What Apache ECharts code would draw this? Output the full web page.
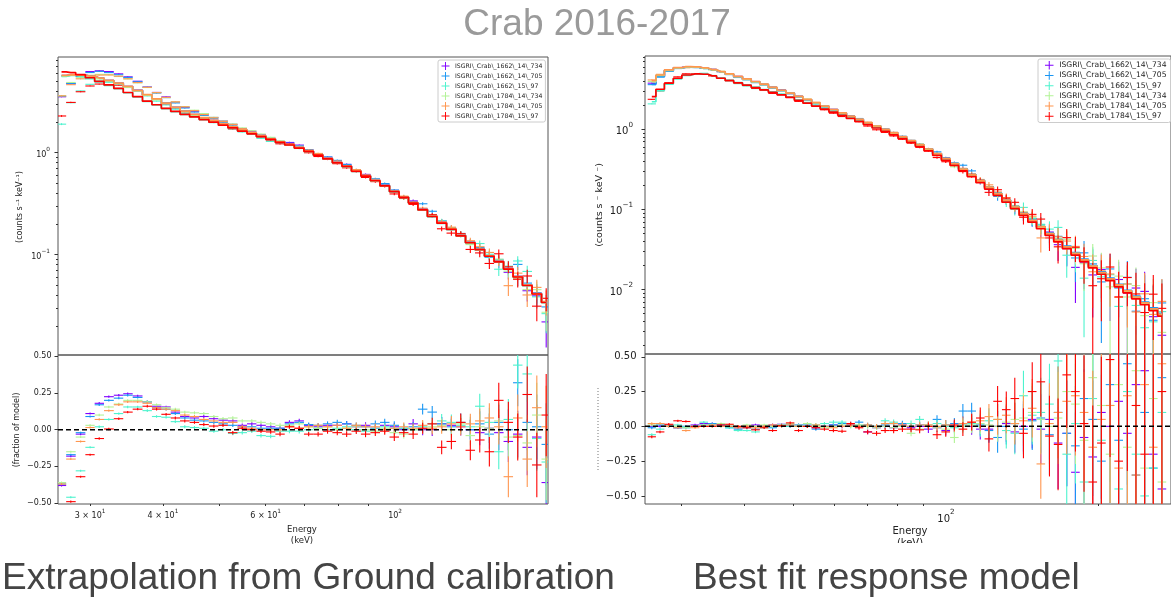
<!DOCTYPE html>
<html><head><meta charset="utf-8">
<script src="https://cdn.jsdelivr.net/npm/echarts@6/dist/echarts.min.js"></script>
<style>html,body{margin:0;padding:0;background:#fff}#c{width:1171px;height:602px}</style>
</head><body><div id="c"></div>
<script>
// ---------------- data ----------------
const NAMES = ['ISGRI\\_Crab\\_1662\\_14\\_734','ISGRI\\_Crab\\_1662\\_14\\_705','ISGRI\\_Crab\\_1662\\_15\\_97',
               'ISGRI\\_Crab\\_1784\\_14\\_734','ISGRI\\_Crab\\_1784\\_14\\_705','ISGRI\\_Crab\\_1784\\_15\\_97'];
const COLORS = ['#8000ff','#1996f3','#4df3ce','#b2f396','#ff964f','#ff0000'];

// Left panel: energy bin centres (keV)
const E_L = [26.8,27.8,28.9,30.0,31.1,32.3,33.6,34.8,36.2,37.6,39.0,40.5,42.0,43.6,45.3,47.0,48.9,50.7,52.7,54.7,56.8,58.9,61.2,63.5,65.9,68.5,71.1,73.8,76.6,79.6,82.6,85.8,89.0,92.5,96.0,99.7,103.5,107.4,111.5,115.8,120.2,124.9,129.6,134.6,139.7,145.1,150.6,156.4,162.3,168.5,175.0,181.6];
// Left panel model count rates per series
const M_L_P = [5.70,5.78,5.75,5.62,5.38,5.10,4.80,4.45,4.08,3.70,3.36,3.05,2.78,2.55,2.36,2.20,2.06,1.92,1.79,1.67,1.56,1.46,1.37,1.28,1.20,1.12,1.04,.955,.877,.803,.739,.664,.595,.536,.476,.419,.368,.324,.278,.239,.206,.179,.155,.132,.113,.0975,.0859,.0731,.0611,.0504,.0416,.0343];
const M_L_B = [5.68,5.76,5.73,5.60,5.36,5.08,4.78,4.43,4.06,3.68,3.34,3.04,2.77,2.54,2.35,2.19,2.05,1.91,1.78,1.66,1.55,1.45,1.36,1.27,1.19,1.11,1.035,.952,.874,.801,.737,.662,.593,.534,.475,.418,.367,.323,.277,.238,.205,.178,.154,.132,.113,.0972,.0856,.0729,.0609,.0502,.0415,.0342];
const M_L_C = [5.60,5.72,5.60,5.32,4.95,4.58,4.24,3.87,3.53,3.19,2.94,2.71,2.53,2.37,2.24,2.11,1.99,1.86,1.75,1.63,1.53,1.44,1.35,1.26,1.19,1.11,1.03,.944,.867,.794,.731,.657,.589,.530,.471,.414,.364,.320,.274,.236,.203,.176,.152,.130,.111,.0963,.0848,.0722,.0603,.0497,.0411,.0339];
const M_L_G = [5.66,5.74,5.72,5.58,5.33,5.05,4.75,4.40,4.03,3.66,3.32,3.02,2.76,2.53,2.34,2.18,2.04,1.90,1.77,1.65,1.55,1.45,1.36,1.27,1.19,1.11,1.03,.950,.872,.799,.735,.660,.592,.533,.474,.417,.366,.322,.276,.238,.205,.178,.154,.131,.112,.0969,.0853,.0726,.0607,.0500,.0413,.0341];
const M_L_O = [5.72,5.80,5.76,5.63,5.39,5.11,4.81,4.46,4.09,3.71,3.37,3.06,2.79,2.56,2.37,2.21,2.07,1.93,1.80,1.68,1.57,1.47,1.37,1.28,1.20,1.12,1.04,.955,.877,.803,.739,.664,.595,.536,.476,.419,.368,.324,.278,.239,.206,.179,.155,.132,.113,.0975,.0859,.0731,.0611,.0504,.0416,.0343];
const M_L_R = [6.19,6.10,5.82,5.43,5.01,4.62,4.27,3.89,3.55,3.20,2.95,2.72,2.54,2.37,2.24,2.11,1.99,1.86,1.75,1.63,1.53,1.44,1.35,1.26,1.19,1.11,1.03,.946,.869,.796,.733,.658,.590,.531,.472,.415,.365,.321,.275,.237,.204,.177,.153,.131,.112,.0966,.0851,.0724,.0605,.0499,.0412,.0340];
// Left panel residuals (fraction of model)
const R_L_P = [-.38,-.18,-.03,.11,.18,.225,.235,.245,.23,.19,.16,.155,.12,.09,.08,.09,.075,.065,.06,.03,.04,.03,.02,.01,.05,.06,.03,.02,.03,.03,.04,.02,.03,.01,.03,.02,0,.04,0,0,.04,.03,.02,0,-.02,.01,-.02,-.08,-.03,-.12,-.05,-.36];
const R_L_B = [-.37,-.17,-.02,.09,.17,.20,.215,.235,.22,.19,.15,.14,.11,.08,.065,.06,.05,.04,.03,.02,.02,.01,.01,.01,.04,.05,.035,.03,.04,.05,.04,.03,.02,.04,.05,.03,.01,.02,.14,.12,.04,.02,.05,0,.04,-.03,.05,0,.32,.05,.02,-.1];
const R_L_C = [-.66,-.46,-.28,-.12,.02,.07,.11,.155,.155,.13,.09,.085,.055,.02,.015,.01,-.01,0,-.025,-.02,-.01,-.04,-.045,-.01,-.01,-.01,0,.01,0,.01,.02,0,-.01,.01,.02,.01,.01,0,.02,.04,.06,.05,.03,.02,.16,.05,-.15,.07,.44,.38,-.06,-.22];
const R_L_G = [-.36,-.15,-.05,.03,.10,.155,.175,.20,.20,.19,.17,.15,.14,.12,.115,.11,.09,.075,.08,.06,.06,.05,.04,.03,.03,.04,.02,.01,.02,0,.01,.02,0,-.01,.01,-.02,-.03,0,.01,.02,.03,0,.04,-.04,.02,.01,.06,-.05,-.04,-.09,.1,-.2];
const R_L_O = [-.37,-.20,-.08,.015,.07,.13,.17,.19,.19,.18,.15,.14,.13,.10,.09,.07,.06,.05,.05,.02,.01,0,0,0,.02,.01,.02,.03,.02,.03,.01,.03,.02,.02,0,.01,.02,.01,.03,.01,.02,.04,.02,.04,.06,.08,.02,-.32,.08,-.2,.15,.02];
const R_L_R = [-.63,-.49,-.32,-.17,-.06,.005,.075,.12,.14,.16,.14,.105,.08,.06,.05,.035,.025,.03,-.02,.01,0,-.01,-.015,-.03,.02,.01,-.03,-.03,-.01,-.02,-.03,-.01,-.03,-.02,-.01,-.05,-.02,-.03,.01,.04,-.12,-.08,.05,-.14,-.07,-.15,.2,.05,-.05,.24,-.24,.1];
// Left panel 1-sigma relative errors
const ERR_L = [.007,.007,.007,.007,.008,.008,.008,.008,.008,.009,.009,.009,.01,.01,.01,.01,.011,.011,.012,.012,.012,.013,.013,.014,.014,.015,.015,.016,.017,.018,.019,.02,.021,.023,.025,.027,.03,.033,.037,.042,.047,.053,.06,.068,.085,.1,.12,.14,.16,.19,.22,.28];

// Right panel: energy bin centres (keV)
const E_R = [26.2,27.2,28.3,29.5,30.6,31.9,33.2,34.5,35.9,37.3,38.8,40.4,42.0,43.7,45.4,47.3,49.2,51.1,53.2,55.3,57.5,59.9,62.3,64.8,67.3,70.0,72.9,75.8,78.8,82.0,85.3,88.7,92.3,96.0,99.9,103.9,108.0,112.4,116.9,121.6,126.5,131.6,136.8,142.3,148.1,154.0,160.2,166.6,173.3,180.3,187.5,195.1,202.9,211.1,219.5,228.4,237.5,247.1,257.0,267.3];
const M_R_P = [3.75,4.60,5.40,5.80,5.97,5.93,5.76,5.48,5.18,4.86,4.52,4.20,3.90,3.61,3.30,3.04,2.80,2.55,2.33,2.12,1.93,1.75,1.59,1.44,1.32,1.20,1.09,.985,.892,.80,.716,.637,.563,.494,.429,.37,.317,.269,.226,.188,.156,.129,.107,.088,.0727,.0601,.0497,.0412,.034,.0282,.0234,.0195,.0162,.0135,.0113,.0095,.00803,.00677,.00573,.00489];
const M_R_B = [3.63,4.50,5.30,5.76,5.94,5.91,5.74,5.46,5.16,4.84,4.50,4.18,3.88,3.59,3.29,3.03,2.79,2.54,2.32,2.11,1.92,1.74,1.58,1.44,1.32,1.20,1.09,.985,.892,.801,.718,.639,.566,.497,.432,.373,.32,.272,.229,.191,.158,.131,.108,.0892,.0737,.061,.0505,.0419,.0347,.0288,.0239,.0199,.0166,.0139,.0116,.0098,.00826,.00698,.00591,.00504];
const M_R_C = [2.20,3.05,3.65,4.25,4.70,4.88,4.84,4.63,4.34,4.06,3.81,3.57,3.34,3.12,2.91,2.71,2.52,2.32,2.14,1.97,1.81,1.66,1.52,1.39,1.27,1.16,1.055,.958,.866,.78,.699,.622,.55,.483,.42,.363,.311,.264,.222,.185,.154,.127,.105,.0867,.0716,.0592,.0489,.0405,.0335,.0278,.0231,.0192,.016,.0133,.0112,.0094,.00792,.00668,.00565,.00482];
const M_R_G = [3.90,4.68,5.42,5.80,5.96,5.92,5.74,5.47,5.17,4.85,4.51,4.19,3.89,3.60,3.30,3.03,2.79,2.55,2.33,2.12,1.93,1.75,1.59,1.44,1.32,1.20,1.09,.985,.89,.80,.715,.636,.562,.493,.428,.369,.316,.268,.225,.187,.156,.129,.106,.0878,.0725,.06,.0496,.041,.0339,.0281,.0233,.0194,.0162,.0135,.0113,.0095,.008,.00675,.00572,.00487];
const M_R_O = [4.03,4.74,5.48,5.85,6.02,5.98,5.80,5.52,5.22,4.90,4.56,4.24,3.93,3.64,3.33,3.06,2.82,2.57,2.35,2.14,1.94,1.76,1.60,1.45,1.33,1.21,1.095,.99,.897,.805,.72,.64,.566,.496,.431,.372,.318,.27,.227,.189,.157,.13,.107,.0883,.0729,.0603,.0498,.0413,.0341,.0283,.0235,.0196,.0163,.0136,.0114,.0096,.00807,.0068,.00576,.00491];
const M_R_R = [2.55,3.15,3.74,4.32,4.74,4.90,4.84,4.62,4.32,4.03,3.78,3.54,3.31,3.09,2.88,2.68,2.49,2.29,2.11,1.94,1.78,1.63,1.49,1.36,1.25,1.14,1.035,.940,.849,.764,.684,.608,.537,.471,.409,.353,.302,.256,.215,.179,.149,.123,.102,.0839,.0693,.0573,.0473,.0392,.0324,.0269,.0223,.0186,.0155,.0129,.0108,.0091,.00766,.00646,.00547,.00466];
const R_R_P = [0,0,.01,-.01,0,.01,.02,.02,.01,0,-.01,0,.01,0,.01,.015,0,.01,0,-.01,0,.01,0,.01,0,-.04,-.01,0,-.01,.01,-.01,0,-.02,-.01,-.03,0,.02,0,-.02,-.02,0,.02,-.04,0,.05,-.02,.05,-.12,-.05,-.33,-.08,-.22,.1,0,.18,-.05,.3,.4,-.2,-.45];
const R_R_B = [-.01,.01,0,-.01,-.01,0,.01,.02,.01,-.01,-.02,-.01,-.02,0,-.01,0,.01,0,.01,-.02,0,.01,.02,.02,.03,.01,0,.01,.02,.02,0,.01,0,.05,.01,.02,.11,.11,.01,-.03,-.08,0,.02,-.02,.04,.06,-.06,.1,-.05,-.14,.2,.05,-.25,.3,-.1,.45,-.35,.1,-.3,.35];
const R_R_C = [-.06,-.02,0,.01,0,0,.03,.01,0,-.01,-.03,-.03,-.04,-.01,0,.01,0,.01,0,.01,.02,.03,.03,0,.01,0,0,.04,.03,0,.02,.05,.01,.02,0,-.01,.01,.02,0,.04,.05,-.03,-.05,.22,.08,.1,.16,.47,-.2,.02,-.4,.2,-.1,.15,-.45,.25,-.2,-.5,-.3,.1];
const R_R_G = [.01,.02,.01,0,-.01,0,.01,0,.02,.01,0,.01,0,.01,0,.01,.02,0,.02,0,-.01,0,.01,0,.01,0,-.01,0,-.01,0,-.05,-.02,0,-.01,-.02,-.08,0,.01,.02,.01,0,.03,.05,.06,.1,.05,0,.06,.25,.16,-.1,.35,.15,-.2,.3,-.15,.4,-.3,.2,-.4];
const R_R_O = [.02,.02,0,-.01,-.03,-.01,0,.01,0,0,-.01,0,-.01,0,.01,0,.01,0,0,.01,0,-.01,0,.01,0,.01,0,.02,.02,.01,0,.01,.01,0,.01,0,.02,.03,.04,.07,.05,.08,.02,.04,.13,-.27,.02,.1,.18,.22,.1,-.15,.05,.15,-.3,.22,-.35,.3,-.15,.45];
const R_R_R = [-.075,-.04,.015,.04,.035,0,0,0,.01,.015,0,-.01,-.025,-.01,-.03,.005,.025,-.03,0,-.01,-.02,-.03,-.035,.02,-.01,-.04,-.05,-.03,-.03,-.02,-.02,-.025,0,-.06,-.04,.01,-.02,.03,.06,-.09,.18,.12,.2,-.05,.25,.32,-.07,-.13,.37,.25,.02,-.4,-.12,.48,-.25,.55,.15,-.2,.6,.25];
const ERR_R = [.01,.009,.009,.008,.008,.008,.008,.008,.008,.008,.009,.009,.009,.009,.01,.01,.01,.011,.011,.012,.012,.013,.013,.014,.015,.016,.017,.018,.019,.02,.022,.024,.027,.03,.035,.04,.05,.06,.075,.09,.11,.13,.15,.18,.21,.25,.29,.33,.38,.43,.49,.55,.62,.7,.78,.87,.96,1.06,1.17,1.3];

// tick values
const X_LABELS_L = [30,40,60,100];
const X_MAJOR = [100];
const X_MINOR_L = [30,40,50,60,70,80,90];
const X_MINOR_R = [30,40,50,60,70,80,90,200];
const Y_MAJOR_L = [0.1,1];
const Y_MAJOR_R = [0.01,0.1,1];
const Y_MINOR_L = [.02,.03,.04,.05,.06,.07,.08,.09,.2,.3,.4,.5,.6,.7,.8,.9,2,3,4,5,6,7,8];
const Y_MINOR_R = [.002,.003,.004,.005,.006,.007,.008,.009,.02,.03,.04,.05,.06,.07,.08,.09,.2,.3,.4,.5,.6,.7,.8,.9,2,3,4,5,6,7,8];
const RES_TICKS = [-0.5,-0.25,0,0.25,0.5];

// ---------------- helpers ----------------
function logLabel(v){
  const e = Math.floor(Math.log10(v) + 1e-6);
  const m = Math.round(v / Math.pow(10, e));
  const ex = (e < 0 ? '\u2212' : '') + Math.abs(e);
  return (m === 1 ? '{b|10}' : '{b|' + m + ' \u00D7 10}') + '{s|' + ex + '}';
}
function richFor(fs){
  return {
    b:{fontSize:fs, fontFamily:'DejaVu Sans', color:'#222', lineHeight:Math.round(fs*1.45), verticalAlign:'bottom'},
    s:{fontSize:Math.round(fs*0.72*10)/10, fontFamily:'DejaVu Sans', color:'#222', lineHeight:Math.round(fs*0.85), verticalAlign:'top'}
  };
}
const resLabel = v => (Math.abs(v) < 1e-9 ? '0.00' : (v < 0 ? '\u2212' : '') + Math.abs(v).toFixed(2));

function binEdges(E){
  const n = E.length, lo = [], hi = [];
  for (let i = 0; i < n; i++){
    const a = i > 0 ? Math.sqrt(E[i-1]*E[i]) : E[0]*E[0]/Math.sqrt(E[0]*E[1]);
    const b = i < n-1 ? Math.sqrt(E[i]*E[i+1]) : E[i]*E[i]/Math.sqrt(E[i-1]*E[i]);
    lo.push(a); hi.push(b);
  }
  return [lo, hi];
}

function makeCross(isLog){
  return function(params, api){
    const cs = params.coordSys;
    const top = cs.y, bot = cs.y + cs.height, left = cs.x, right = cs.x + cs.width;
    const x = api.value(0), y = api.value(1), x0 = api.value(2), x1 = api.value(3), y0 = api.value(4), y1 = api.value(5);
    const c = api.coord([x, y]);
    const pl = Math.max(left, api.coord([x0, y])[0]);
    const pr = Math.min(right, api.coord([x1, y])[0]);
    let pt = api.coord([x, y1])[1];
    let pb = (isLog && !(y0 > 0)) ? bot : api.coord([x, y0])[1];
    if (!isFinite(pb)) pb = bot;
    const style = {stroke: api.visual('color'), lineWidth: 1.1};
    const children = [];
    if (!(pt > bot || pb < top)){
      pt = Math.max(top, pt); pb = Math.min(bot, pb);
      if (c[0] >= left && c[0] <= right)
        children.push({type:'line', shape:{x1:c[0], y1:pt, x2:c[0], y2:pb}, style});
    }
    if (c[1] >= top && c[1] <= bot && pr > pl)
      children.push({type:'line', shape:{x1:pl, y1:c[1], x2:pr, y2:c[1]}, style});
    return {type:'group', children};
  };
}

// ---------------- panels ----------------
const PANELS = [
  {E:E_L, M:[M_L_P,M_L_B,M_L_C,M_L_G,M_L_O,M_L_R], R:[R_L_P,R_L_B,R_L_C,R_L_G,R_L_O,R_L_R], ERR:ERR_L, xTop:0, xBot:1, yTop:0, yBot:2},
  {E:E_R, M:[M_R_P,M_R_B,M_R_C,M_R_G,M_R_O,M_R_R], R:[R_R_P,R_R_B,R_R_C,R_R_G,R_R_O,R_R_R], ERR:ERR_R, xTop:3, xBot:4, yTop:3, yBot:5}
];

const series = [];
PANELS.forEach(p => {
  const [lo, hi] = binEdges(p.E);
  for (let k = 0; k < 6; k++){
    const M = p.M[k], R = p.R[k], col = COLORS[k];
    // observed rate = model * (1 + residual); error = model * relative error
    const topData = p.E.map((e,i) => [e, M[i]*(1+R[i]), lo[i], hi[i], M[i]*(1+R[i]-p.ERR[i]), M[i]*(1+R[i]+p.ERR[i])]);
    const botData = p.E.map((e,i) => [e, R[i], lo[i], hi[i], R[i]-p.ERR[i], R[i]+p.ERR[i]]);
    series.push({type:'custom', name:NAMES[k], xAxisIndex:p.xTop, yAxisIndex:p.yTop, data:topData,
      encode:{x:0, y:1}, renderItem:makeCross(true), itemStyle:{color:col}, silent:true, z:2});
    series.push({type:'line', name:NAMES[k], xAxisIndex:p.xTop, yAxisIndex:p.yTop, data:p.E.map((e,i)=>[e, M[i]]),
      step:'middle', symbol:'none', showSymbol:false, lineStyle:{color:col, width:1.7}, itemStyle:{color:col}, silent:true, z:2});
    series.push({type:'custom', name:NAMES[k], xAxisIndex:p.xBot, yAxisIndex:p.yBot, data:botData,
      encode:{x:0, y:1}, renderItem:makeCross(false), itemStyle:{color:col}, silent:true, z:2});
  }
  series.push({type:'custom', xAxisIndex:p.xBot, yAxisIndex:p.yBot, data:[[p.E[0], 0]], silent:true, z:6,
    encode:{x:0, y:1},
    renderItem:(params, api) => {
      const cs = params.coordSys; const y = api.coord([api.value(0), api.value(1)])[1];
      return {type:'line', shape:{x1:cs.x, y1:y, x2:cs.x+cs.width, y2:y}, style:{stroke:'#000', lineWidth:1.5, lineDash:[5,3]}};
    }});
});

// ---------------- axes ----------------
const TXT = '#222';
const FONT = 'DejaVu Sans';
const X_L = {min:26.43, max:182.9}, X_R = {min:25.40, max:278.6};
function bare(type, gi, r, pos){ return Object.assign({type, gridIndex:gi, position:pos, axisLine:{show:false}, axisTick:{show:false}, axisLabel:{show:false}, splitLine:{show:false}}, r); }
function ticked(type, gi, pos, r, tickVals, len, labelVals, fmt, fs, margin, rich){
  return Object.assign({type, gridIndex:gi, position:pos, axisLine:{show:false}, splitLine:{show:false},
    axisTick:{show:true, length:len, customValues:tickVals, lineStyle:{color:'#333', width:1}},
    axisLabel: labelVals ? {show:true, customValues:labelVals, formatter:fmt, fontSize:fs, color:TXT, fontFamily:FONT, margin, rich} : {show:false}}, r);
}

const xAxis = [
  bare('log', 0, X_L, 'bottom'),                                                            // 0 left top
  ticked('log', 1, 'bottom', X_L, X_MAJOR, 3.5, X_LABELS_L, logLabel, 8, 4, richFor(8)),    // 1 left bottom
  ticked('log', 1, 'bottom', X_L, X_MINOR_L, 2, null),                                      // 2 left bottom minor
  bare('log', 2, X_R, 'bottom'),                                                            // 3 right top
  ticked('log', 3, 'bottom', X_R, X_MAJOR, 3.5, X_MAJOR, logLabel, 10, 5, richFor(10)),     // 4 right bottom
  ticked('log', 3, 'bottom', X_R, X_MINOR_R, 2, null)                                       // 5 right bottom minor
];

const yAxis = [
  ticked('log', 0, 'left', {min:0.0104, max:8.67}, Y_MAJOR_L, 3.5, Y_MAJOR_L, logLabel, 8, 8, richFor(8)),
  ticked('log', 0, 'left', {min:0.0104, max:8.67}, Y_MINOR_L, 2, null),
  ticked('value', 1, 'left', {min:-0.506, max:0.509}, RES_TICKS, 3.5, RES_TICKS, resLabel, 8, 6.5),
  ticked('log', 2, 'left', {min:0.00157, max:8.18}, Y_MAJOR_R, 3.5, Y_MAJOR_R, logLabel, 10, 12, richFor(10)),
  ticked('log', 2, 'left', {min:0.00157, max:8.18}, Y_MINOR_R, 2, null),
  ticked('value', 3, 'left', {min:-0.558, max:0.52}, RES_TICKS, 3.5, RES_TICKS, resLabel, 10, 8.5)
];

const GRID_STYLE = {show:true, borderColor:'#555', borderWidth:1, backgroundColor:'transparent'};
const grid = [
  Object.assign({left:58, top:57, width:490, height:298}, GRID_STYLE),
  Object.assign({left:58, top:355, width:490, height:149}, GRID_STYLE),
  Object.assign({left:645, top:56, width:530, height:298}, GRID_STYLE),
  Object.assign({left:645, top:354, width:530, height:150}, GRID_STYLE)
];

const PLUS = 'path://M4.4,0H5.6V4.4H10V5.6H5.6V10H4.4V5.6H0V4.4H4.4Z';
const legendBase = {data:NAMES, orient:'vertical', icon:PLUS, selectedMode:false, backgroundColor:'#fff',
  borderColor:'#ccc', borderWidth:1, borderRadius:2};
const legend = [
  Object.assign({}, legendBase, {left:438, top:60, padding:[2,3,2,3.5], itemGap:2, itemWidth:9, itemHeight:8,
    textStyle:{fontSize:6.2, color:TXT, fontFamily:FONT}}),
  Object.assign({}, legendBase, {left:1038, top:59, padding:[2,4,2,7], itemGap:1.7, itemWidth:10, itemHeight:8.5,
    textStyle:{fontSize:7.6, color:TXT, fontFamily:FONT}})
];

const txt = (text, x, y, font, fill, align, extra) => Object.assign({type:'text', x, y, z:50, silent:true,
  style:{text, font, fill, align: align || 'center', verticalAlign:'middle'}}, extra || {});
const graphic = [
  txt('Crab 2016-2017', 597, 25, '37px "Liberation Sans"', '#9a9a9a'),
  txt('Extrapolation from Ground calibration', 2, 579, '37px "Liberation Sans"', '#444', 'left'),
  txt('Best fit response model', 693, 579, '37px "Liberation Sans"', '#444', 'left'),
  txt('(counts s\u207B\u00B9 keV\u207B\u00B9)', 20, 207, '8px "DejaVu Sans"', TXT, 'center', {rotation:Math.PI/2}),
  txt('(fraction of model)', 17, 430, '8px "DejaVu Sans"', TXT, 'center', {rotation:Math.PI/2}),
  txt('(counts s \u207B keV \u207B)', 600, 205, '9.5px "DejaVu Sans"', TXT, 'center', {rotation:Math.PI/2}),
  txt('Energy', 302, 530, '8.5px "DejaVu Sans"', TXT),
  txt('(keV)', 302, 541, '8.5px "DejaVu Sans"', TXT),
  txt('Energy', 910, 531, '10px "DejaVu Sans"', TXT),
  txt('(keV)', 910, 543, '10px "DejaVu Sans"', TXT),
  {type:'rect', z:60, silent:true, shape:{x:880, y:543, width:60, height:12}, style:{fill:'#fff'}},
  {type:'line', z:50, silent:true, shape:{x1:598, y1:388, x2:598, y2:470}, style:{stroke:'#777', lineWidth:1, lineDash:[1,2]}}
];

const chart = echarts.init(document.getElementById('c'), null, {renderer:'canvas', width:1171, height:602});
chart.setOption({
  animation:false,
  backgroundColor:'#fff',
  textStyle:{fontFamily:FONT},
  grid, xAxis, yAxis, legend, graphic, series
});
</script>
</body></html>
